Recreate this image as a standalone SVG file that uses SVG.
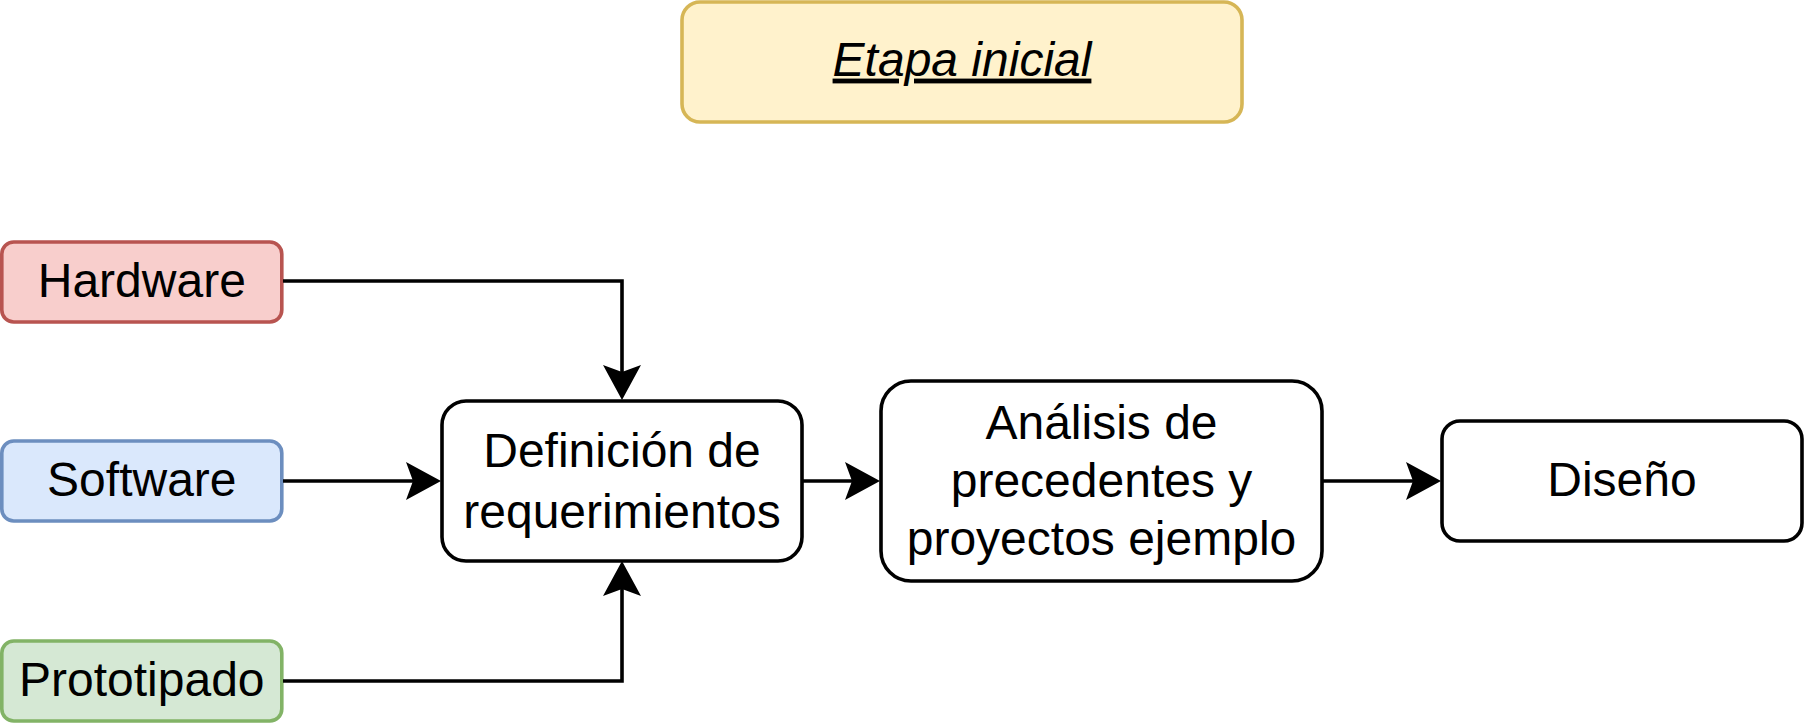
<svg xmlns="http://www.w3.org/2000/svg" width="1804" height="724" viewBox="0 0 1804 724">
<style>
.box{stroke-width:3.6;}
.lbl{font-family:"Liberation Sans",Arial,sans-serif;font-size:48px;fill:#000;text-anchor:middle;}
.edge{fill:none;stroke:#000;stroke-width:3.6;}
</style>
<defs>
<marker id="arr" markerUnits="userSpaceOnUse" markerWidth="36" markerHeight="38" viewBox="0 0 36 38" refX="25" refY="19" orient="auto">
<path d="M0,0 L35,19 L0,38 L7,19 Z" fill="#000"/>
</marker>
</defs>
<rect width="1804" height="724" fill="#fff"/>
<g id="etapa">
<rect class="box" x="682" y="2" width="560" height="120" rx="18" fill="#fff2cc" stroke="#d6b656"/>
<text class="lbl" x="962" y="75.6" font-style="italic" text-decoration="underline">Etapa inicial</text>
</g>
<g id="hardware">
<rect class="box" x="1.8" y="242" width="280" height="80" rx="12" fill="#f8cecc" stroke="#b85450"/>
<text class="lbl" x="141.8" y="296.6">Hardware</text>
</g>
<g id="software">
<rect class="box" x="1.8" y="441" width="280" height="80" rx="12" fill="#dae8fc" stroke="#6c8ebf"/>
<text class="lbl" x="141.8" y="495.6">Software</text>
</g>
<g id="prototipado">
<rect class="box" x="1.8" y="641" width="280" height="80" rx="12" fill="#d5e8d4" stroke="#82b366"/>
<text class="lbl" x="141.8" y="695.6">Prototipado</text>
</g>
<g id="definicion">
<rect class="box" x="442" y="401" width="360" height="160" rx="24" fill="#fff" stroke="#000"/>
<text class="lbl" x="622" y="466.5">Definición de</text>
<text class="lbl" x="622" y="527.5">requerimientos</text>
</g>
<g id="analisis">
<rect class="box" x="881" y="381" width="441" height="200" rx="30" fill="#fff" stroke="#000"/>
<text class="lbl" x="1101.5" y="438.5">Análisis de</text>
<text class="lbl" x="1101.5" y="496.5">precedentes y</text>
<text class="lbl" x="1101.5" y="554.5">proyectos ejemplo</text>
</g>
<g id="diseno">
<rect class="box" x="1442" y="421" width="360" height="120" rx="18" fill="#fff" stroke="#000"/>
<text class="lbl" x="1622" y="495.6">Diseño</text>
</g>
<g id="connectors">
<path class="edge" d="M283,281 H622 V390" marker-end="url(#arr)"/>
<path class="edge" d="M283,481 H431" marker-end="url(#arr)"/>
<path class="edge" d="M283,681 H622 V571" marker-end="url(#arr)"/>
<path class="edge" d="M803,481 H870" marker-end="url(#arr)"/>
<path class="edge" d="M1323,481 H1431" marker-end="url(#arr)"/>
</g>
</svg>
